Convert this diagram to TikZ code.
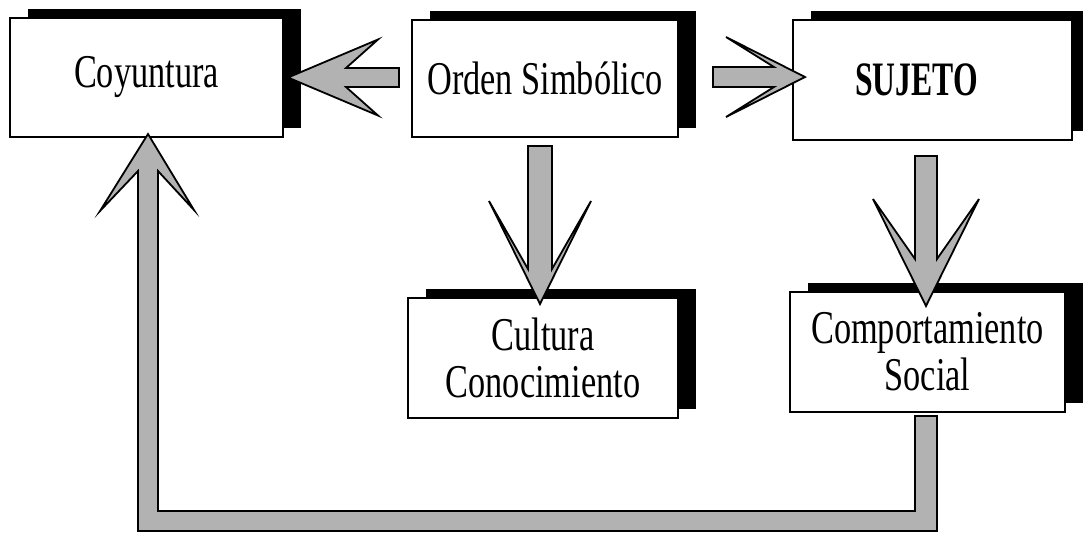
\documentclass[tikz,border=0pt]{standalone}
\usepackage{fontspec}
\setmainfont{Liberation Serif}[FakeStretch=0.73]
\newfontfamily\sujfont{Liberation Serif}[FakeStretch=0.66]
\usetikzlibrary{calc,shadows}
\begin{document}
\begin{tikzpicture}[x=0.5pt,y=-0.5pt,
  box/.style={draw,line width=1pt,fill=white,inner sep=0pt,align=center,
    font=\fontsize{23.5}{23.5}\selectfont,
    general shadow={fill=black,shadow xshift=9pt,shadow yshift=4.5pt}},
  fat/.style={draw=black,line width=0.9pt,fill=black!30,line join=miter}]
\useasboundingbox (0,0) rectangle (1083,532);
% boxes
\node[box,minimum width=136.5pt,minimum height=59.5pt] (coy) at (146.5,77.5) {Coyuntura};
\node[box,minimum width=133pt,minimum height=58.5pt] (orden) at (545,78.5) {Orden Simbólico};
\node[box,minimum width=139.5pt,minimum height=60pt,font=\fontsize{24}{24}\sujfont\bfseries] (suj) at (932.5,80) {SUJETO\hspace*{16pt}};
\node[box,minimum width=135pt,minimum height=60pt] (cult) at (543,358) {Cultura\\Conocimiento};
\node[box,minimum width=137.5pt,minimum height=60pt] (comp) at (927.5,352) {Comportamiento\\Social};
% Orden -> Coyuntura
\coordinate (t1) at ($(coy.east)+(4,0)$);
\coordinate (s1) at ($(t1 -| orden.west)+(-12,0)$);
\draw[fat] (t1) -- ($(t1)+(90,-38)$) -- ($(t1)+(58,-9.5)$) -- ($(s1)+(0,-9.5)$)
  -- ($(s1)+(0,9.5)$) -- ($(t1)+(58,9.5)$) -- ($(t1)+(90,38)$) -- cycle;
% Orden -> SUJETO
\coordinate (t5) at ($(suj.west)+(13,-3)$);
\coordinate (s5) at ($(t5 -| orden.east)+(34,0)$);
\draw[fat] (t5) -- ($(t5)+(-79,-40)$) -- ($(t5)+(-31,-10)$) -- ($(s5)+(0,-10)$)
  -- ($(s5)+(0,10)$) -- ($(t5)+(-31,10)$) -- ($(t5)+(-79,40)$) -- cycle;
% Orden -> Cultura
\coordinate (t2) at ($(cult.north)+(-3,7)$);
\coordinate (s2) at ($(t2 |- orden.south)+(0,8)$);
\draw[fat] (t2) -- ($(t2)+(-51,-103)$) -- ($(t2)+(-12,-35)$) -- ($(s2)+(-12,0)$)
  -- ($(s2)+(12,0)$) -- ($(t2)+(12,-35)$) -- ($(t2)+(51,-103)$) -- cycle;
% SUJETO -> Comportamiento
\coordinate (t3) at ($(comp.north)+(-1.5,15)$);
\coordinate (s3) at ($(t3 |- suj.south)+(0,15)$);
\draw[fat] (t3) -- ($(t3)+(-53,-107)$) -- ($(t3)+(-11,-47)$) -- ($(s3)+(-11,0)$)
  -- ($(s3)+(11,0)$) -- ($(t3)+(11,-47)$) -- ($(t3)+(53,-107)$) -- cycle;
% Comportamiento -> Coyuntura (feedback)
\coordinate (fb) at ($(comp.south)+(-1.5,3)$);
\coordinate (bc) at ($(fb)+(0,105)$);
\coordinate (t4) at ($(coy.south)+(1.5,-4)$);
\draw[fat] ($(fb)+(-11,0)$) -- ($(bc)+(-11,-10)$) -- ($(t4 |- bc)+(10,-10)$)
  -- ($(t4)+(10,37)$) -- ($(t4)+(46,76)$) -- (t4) -- ($(t4)+(-48,77)$)
  -- ($(t4)+(-10,37)$) -- ($(t4 |- bc)+(-10,10)$) -- ($(bc)+(11,10)$)
  -- ($(fb)+(11,0)$) -- cycle;
\end{tikzpicture}
\end{document}
